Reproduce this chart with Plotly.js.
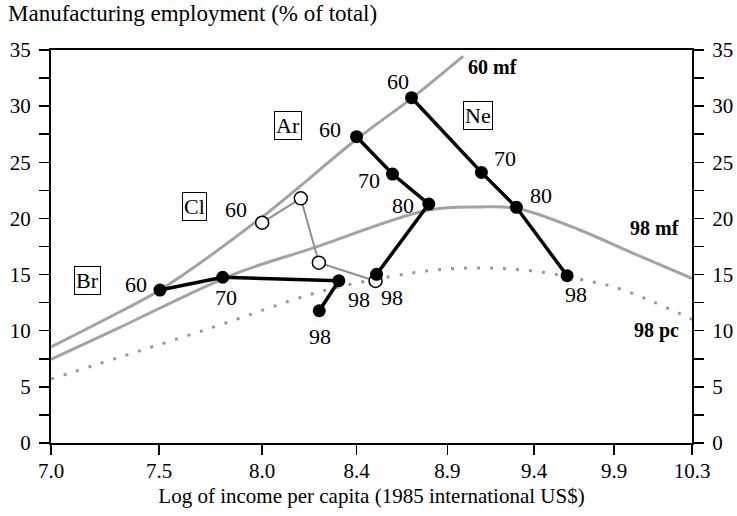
<!DOCTYPE html>
<html>
<head>
<meta charset="utf-8">
<script src="https://cdn.plot.ly/plotly-3.0.1.min.js"></script>
<style>
html,body{margin:0;padding:0;background:#fff;}
#chart{width:737px;height:516px;}
</style>
</head>
<body>
<div id="chart"></div>
<script>
// ---- Data ----
const xTickVals = [7, 7.557, 8.087, 8.573, 9.041, 9.487, 9.899, 10.3];
const xTickText = ['7.0', '7.5', '8.0', '8.4', '8.9', '9.4', '9.9', '10.3'];
const yTickVals = [0, 2.5, 5, 7.5, 10, 12.5, 15, 17.5, 20, 22.5, 25, 27.5, 30, 32.5, 35];
const yTickText = ['0', '', '5', '', '10', '', '15', '', '20', '', '25', '', '30', '', '35'];

// Brazil
const brX = [7.561, 7.884, 8.482, 8.381];
const brY = [13.62, 14.76, 14.45, 11.78];
const brYears = ['60', '70', '98', '98'];
// Chile
const clX = [8.087, 8.286, 8.379, 8.671];
const clY = [19.62, 21.79, 16.06, 14.43];
const clYears = ['60', '', '', '98'];
// Argentina
const arX = [8.573, 8.758, 8.945, 8.676];
const arY = [27.28, 23.95, 21.28, 15.02];
const arYears = ['60', '70', '80', ''];
// Netherlands
const neX = [8.856, 9.216, 9.396, 9.657];
const neY = [30.75, 24.10, 20.99, 14.90];
const neYears = ['60', '70', '80', '98'];

// Fitted curves
const mf60X = [7.0, 7.355, 7.561, 8.086, 8.575, 8.858, 9.122];
const mf60Y = [8.55, 11.69, 13.62, 20.12, 27.07, 30.72, 34.46];
const mf98X = [7.0, 7.355, 7.931, 8.348, 8.945, 9.208, 9.396, 9.722, 9.979, 10.3];
const mf98Y = [7.44, 10.30, 14.96, 17.36, 20.75, 21.02, 20.90, 18.97, 17.03, 14.67];
const pc98X = [7.0, 7.801, 8.384, 8.744, 9.019, 9.293, 9.551, 9.722, 9.893, 10.099, 10.3];
const pc98Y = [5.70, 10.12, 13.47, 14.81, 15.47, 15.56, 15.16, 14.58, 13.92, 12.58, 11.0];

// Country box labels
const countryNames = ['Ar', 'Ne', 'Cl', 'Br'];
const countryLabelX = [8.218, 9.197, 7.737, 7.190];
const countryLabelY = [28.32, 29.21, 21.10, 14.43];

// Curve labels
const curveNames = ['60 mf', '98 mf', '98 pc'];
const curveLabelX = [9.271, 10.108, 10.117];
const curveLabelY = [33.51, 19.12, 10.06];

// ---- Styling ----
const FONT = '"Liberation Serif", "DejaVu Serif", serif';
const yearOffsets = {
  br: [[-24, 6], [3, -20], [20, -19], [1, -26]],
  cl: [[-26, 13], [0, 0], [0, 0], [16, -17]],
  ar: [[-27, 7], [-23, -6], [-26, -1], [0, 0]],
  ne: [[-14, 16], [24, 14], [25, 12], [9, -19]]
};

const gray = '#a3a3a3';
const traces = [
  {x: mf60X, y: mf60Y, mode: 'lines', line: {color: gray, width: 3, shape: 'spline'}, hoverinfo: 'skip'},
  {x: mf98X, y: mf98Y, mode: 'lines', line: {color: gray, width: 3, shape: 'spline'}, hoverinfo: 'skip'},
  {x: pc98X, y: pc98Y, mode: 'lines', line: {color: '#9a9a9a', width: 3, shape: 'spline', dash: '3px,10px'}, hoverinfo: 'skip'},
  {x: clX, y: clY, mode: 'lines+markers', line: {color: '#8f8f8f', width: 2},
   marker: {size: 13, color: '#ffffff', line: {color: '#000', width: 1.5}}},
  {x: brX, y: brY, mode: 'lines+markers', line: {color: '#000', width: 3.5}, marker: {size: 13, color: '#000'}},
  {x: arX, y: arY, mode: 'lines+markers', line: {color: '#000', width: 3.5}, marker: {size: 13, color: '#000'}},
  {x: neX, y: neY, mode: 'lines+markers', line: {color: '#000', width: 3.5}, marker: {size: 13, color: '#000'}},
  // invisible trace to create the right-hand axis
  {x: [7, 10.3], y: [0, 35], yaxis: 'y2', mode: 'markers', marker: {opacity: 0}, hoverinfo: 'skip'}
];

const annotations = [];
function addYears(xs, ys, years, offs) {
  for (let i = 0; i < xs.length; i++) {
    if (!years[i]) continue;
    annotations.push({x: xs[i], y: ys[i], xref: 'x', yref: 'y', text: years[i], showarrow: false,
      xshift: offs[i][0], yshift: offs[i][1], font: {family: FONT, size: 22, color: '#000'}});
  }
}
addYears(brX, brY, brYears, yearOffsets.br);
addYears(clX, clY, clYears, yearOffsets.cl);
addYears(arX, arY, arYears, yearOffsets.ar);
addYears(neX, neY, neYears, yearOffsets.ne);
for (let i = 0; i < countryNames.length; i++) {
  annotations.push({x: countryLabelX[i], y: countryLabelY[i], xref: 'x', yref: 'y', text: countryNames[i],
    showarrow: false, bordercolor: '#000', borderwidth: 1, borderpad: 1, bgcolor: '#fff',
    font: {family: FONT, size: 22, color: '#000'}});
}
for (let i = 0; i < curveNames.length; i++) {
  annotations.push({x: curveLabelX[i], y: curveLabelY[i], xref: 'x', yref: 'y', text: '<b>' + curveNames[i] + '</b>',
    showarrow: false, font: {family: FONT, size: 20, color: '#000'}});
}

const axisFont = {family: FONT, size: 21, color: '#000'};
const layout = {
  width: 737, height: 516,
  margin: {l: 51, r: 45, t: 50, b: 73, pad: 0},
  paper_bgcolor: '#fff', plot_bgcolor: '#fff',
  showlegend: false,
  font: {family: FONT, color: '#000'},
  title: {text: 'Manufacturing employment (% of total)', x: 8 / 737, xanchor: 'left', xref: 'container',
          y: 1 - 5 / 516, yanchor: 'top', yref: 'container', font: {family: FONT, size: 23, color: '#000'}},
  xaxis: {range: [7, 10.3], tickvals: xTickVals, ticktext: xTickText, ticks: 'outside', ticklen: 10, tickwidth: 1.5,
          tickcolor: '#000', showline: true, linecolor: '#000', linewidth: 2, mirror: true, showgrid: false,
          zeroline: false, tickfont: axisFont, ticklabelstandoff: -2,
          title: {text: 'Log of income per capita (1985 international US$)', font: axisFont, standoff: 6}},
  yaxis: {range: [0, 35], tickvals: yTickVals, ticktext: yTickText, ticks: 'outside', ticklen: 10, tickwidth: 1.5,
          tickcolor: '#000', showline: true, linecolor: '#000', linewidth: 2, showgrid: false, zeroline: false,
          tickfont: axisFont, ticklabelstandoff: 4},
  yaxis2: {range: [0, 35], overlaying: 'y', side: 'right', tickvals: yTickVals, ticktext: yTickText, ticks: 'outside',
           ticklen: 10, tickwidth: 1.5, tickcolor: '#000', showline: true, linecolor: '#000', linewidth: 2,
           showgrid: false, zeroline: false, tickfont: axisFont, ticklabelstandoff: 4},
  annotations: annotations
};

Plotly.newPlot('chart', traces, layout, {displayModeBar: false, staticPlot: true});
</script>
</body>
</html>
